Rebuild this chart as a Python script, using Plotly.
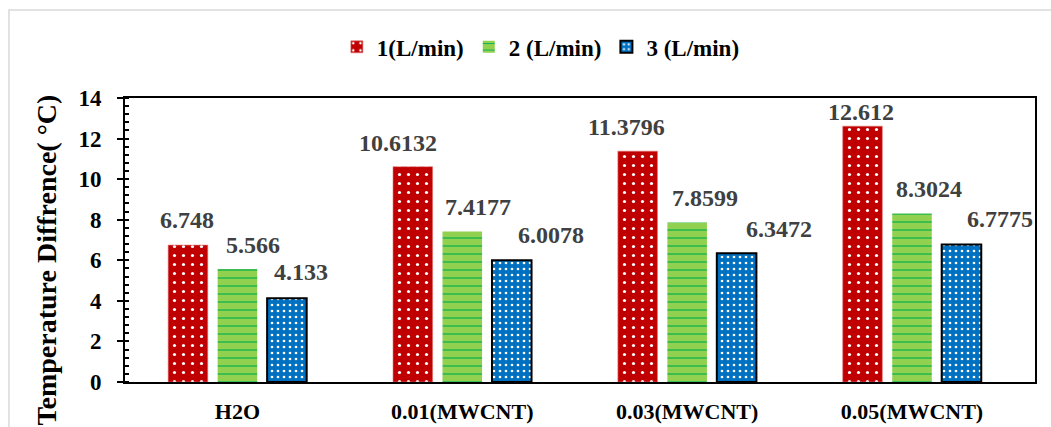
import plotly.graph_objects as go

# Coolant samples and flow rates
categories = ["H2O", "0.01(MWCNT)", "0.03(MWCNT)", "0.05(MWCNT)"]
series_names = ["1(L/min)", "2 (L/min)", "3 (L/min)"]

flow_1 = [6.748, 10.6132, 11.3796, 12.612]
flow_2 = [5.566, 7.4177, 7.8599, 8.3024]
flow_3 = [4.133, 6.0078, 6.3472, 6.7775]

y_ticks = [0, 2, 4, 6, 8, 10, 12, 14]
y_title = "Temperature Diffrence( °C)"

# Styling per series
bar_styles = [
    dict(bg="#C00000", fg="#FFFFFF", shape=".", size=9, solidity=0.1,
         line_color="#E07070", line_width=0.6),
    dict(bg="#92D050", fg="#00B050", shape="-", size=8, solidity=0.15,
         line_color="#92D050", line_width=0),
    dict(bg="#0070C0", fg="#FFFFFF", shape=".", size=6, solidity=0.16,
         line_color="#000000", line_width=2),
]

# Manual value-label nudges (pixels) per series / category
label_dx = [[0, -14, -11, -1], [16, 16, 18, 17], [14, 39, 42, 38]]
label_dy = [[25, 24, 24, 14], [24, 25, 25, 25], [26, 25, 24, 26]]

FONT = "Liberation Serif"
series_values = [flow_1, flow_2, flow_3]

fig = go.Figure()
for name, vals, st in zip(series_names, series_values, bar_styles):
    fig.add_trace(go.Bar(
        name=name, x=categories, y=vals,
        marker=dict(
            color=st["bg"],
            line=dict(color=st["line_color"], width=st["line_width"]),
            pattern=dict(shape=st["shape"], fgcolor=st["fg"], bgcolor=st["bg"],
                         size=st["size"], solidity=st["solidity"], fillmode="replace"),
        ),
    ))

slot_px = 50
annotations = []
for i, vals in enumerate(series_values):
    for j, v in enumerate(vals):
        annotations.append(dict(
            x=categories[j], y=v, xref="x", yref="y",
            text=str(v), showarrow=False,
            xshift=(i - 1) * slot_px + label_dx[i][j], yshift=label_dy[i][j],
            yanchor="middle", xanchor="center",
            font=dict(family=FONT, size=24, color="#404040", weight="bold"),
        ))

# Vertical axis title placed in the left margin
annotations.append(dict(
    text=y_title, xref="paper", yref="paper", x=-0.086, y=0.43,
    xanchor="center", yanchor="middle", textangle=-90, showarrow=False,
    font=dict(family=FONT, size=28, color="black", weight="bold"),
))

fig.update_layout(
    width=1051, height=427,
    margin=dict(l=125, r=16, t=98, b=45, autoexpand=False),
    paper_bgcolor="white", plot_bgcolor="white",
    barmode="group", bargap=0.34, bargroupgap=0.2,
    font=dict(family=FONT, color="black"),
    legend=dict(
        orientation="h", x=0.457, xanchor="center", y=1.18, yanchor="middle",
        font=dict(family=FONT, size=23, color="black", weight="bold"),
        itemwidth=30, tracegroupgap=0,
    ),
    annotations=annotations,
    shapes=[dict(type="rect", xref="paper", yref="paper",
                 x0=-0.1275, x1=1.1, y0=-0.5, y1=1.31,
                 line=dict(color="#D9D9D9", width=1.5), layer="below")],
)

fig.update_xaxes(
    showline=True, linecolor="black", linewidth=2, mirror=True,
    ticks="", showgrid=False,
    tickfont=dict(family=FONT, size=22, color="black", weight="bold"),
    ticklabelstandoff=9,
)
fig.update_yaxes(
    range=[0, 14], tickvals=y_ticks,
    showline=True, linecolor="black", linewidth=2, mirror=True,
    ticks="outside", ticklen=6, tickwidth=2, tickcolor="black",
    minor=dict(dtick=0.4, ticks="inside", ticklen=4, tickwidth=2, tickcolor="black"),
    showgrid=False, zeroline=False,
    tickfont=dict(family=FONT, size=23, color="black", weight="bold"),
    ticklabelstandoff=11,
)

fig.write_html("out.html")
